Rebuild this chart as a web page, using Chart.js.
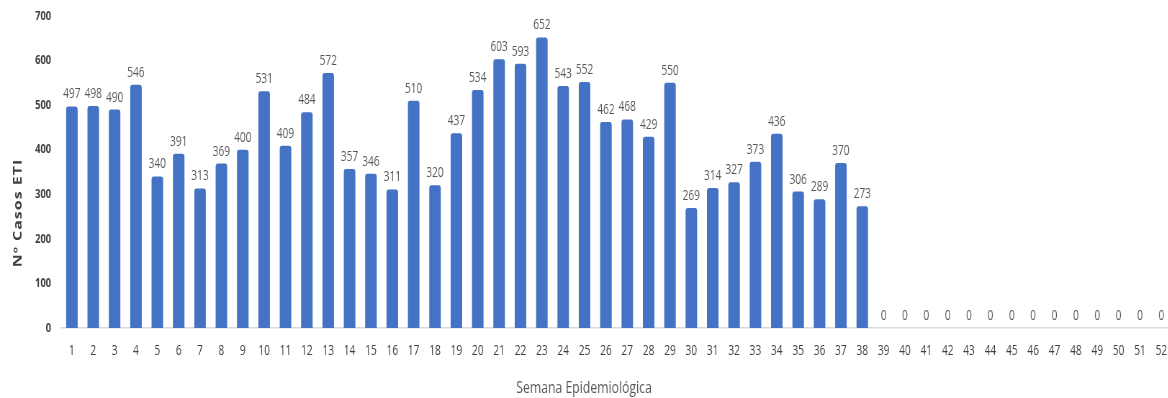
<!DOCTYPE html>
<html>
<head>
<meta charset="utf-8">
<script src="https://cdn.jsdelivr.net/npm/chart.js@4/dist/chart.umd.min.js"></script>
<style>
  html, body { margin: 0; padding: 0; background: #ffffff; overflow: hidden; }
  #wrap { width: 1168px; height: 398px; overflow: hidden; }
  /* the chart is laid out wide and shown horizontally compressed */
  #c { display: block; width: 1172px !important; height: 398px !important; }
</style>
</head>
<body>
<div id="wrap"><canvas id="c" width="1628" height="398"></canvas></div>
<script>
// Epidemiological weeks 1..52
const semanas = [];
for (let i = 1; i <= 52; i++) semanas.push(String(i));

// Weekly ETI case counts
const casosETI = [
  497, 498, 490, 546, 340, 391, 313, 369, 400, 531,
  409, 484, 572, 357, 346, 311, 510, 320, 437, 534,
  603, 593, 652, 543, 552, 462, 468, 429, 550, 269,
  314, 327, 373, 436, 306, 289, 370, 273, 0, 0,
  0, 0, 0, 0, 0, 0, 0, 0, 0, 0,
  0, 0
];

const yTicks = [0, 100, 200, 300, 400, 500, 600, 700];

const FONT = "'Open Sans', 'DejaVu Sans', sans-serif";

// Draws each bar's value just above its top
const valueLabels = {
  id: 'valueLabels',
  afterDatasetsDraw(chart) {
    const ctx = chart.ctx;
    const meta = chart.getDatasetMeta(0);
    const data = chart.data.datasets[0].data;
    ctx.save();
    ctx.font = '14px ' + FONT;
    ctx.fillStyle = '#595959';
    ctx.textAlign = 'center';
    ctx.textBaseline = 'alphabetic';
    meta.data.forEach((bar, i) => {
      ctx.fillText(String(data[i]), bar.x, bar.y - 8);
    });
    ctx.restore();
  }
};

// Axis captions: vertical one left of the ticks, horizontal one centred on the page
const axisCaptions = {
  id: 'axisCaptions',
  afterDraw(chart) {
    const ctx = chart.ctx;
    ctx.save();
    ctx.translate(25, 213);
    ctx.rotate(-Math.PI / 2);
    ctx.font = 'bold 16px ' + FONT;
    ctx.fillStyle = '#404040';
    ctx.textAlign = 'center';
    ctx.textBaseline = 'middle';
    if ('letterSpacing' in ctx) ctx.letterSpacing = '1px';
    ctx.fillText('Nº Casos ETI', 0, 0);
    ctx.restore();

    ctx.save();
    ctx.font = '17px ' + FONT;
    ctx.fillStyle = '#595959';
    ctx.textAlign = 'center';
    ctx.textBaseline = 'middle';
    ctx.fillText('Semana Epidemiológica', chart.width * 0.4983, chart.height - 10);
    ctx.restore();
  }
};

new Chart(document.getElementById('c'), {
  type: 'bar',
  data: {
    labels: semanas,
    datasets: [{
      data: casosETI,
      backgroundColor: '#4472C4',
      borderRadius: { topLeft: 3, topRight: 3 },
      borderSkipped: 'bottom',
      categoryPercentage: 1.0,
      barPercentage: 0.54
    }]
  },
  options: {
    responsive: false,
    animation: false,
    devicePixelRatio: 1,
    layout: { padding: { top: 16, right: 0, left: 0, bottom: 0 } },
    plugins: {
      legend: { display: false },
      tooltip: { enabled: false }
    },
    scales: {
      x: {
        grid: { display: false, drawTicks: false },
        border: { display: true, color: '#d9d9d9', width: 1.5 },
        ticks: {
          color: '#404040',
          font: { family: FONT, size: 14 },
          padding: 15,
          maxRotation: 0,
          autoSkip: false
        },
        afterFit(scale) {
          scale.height = 70;
          scale.paddingLeft = 0;
          scale.paddingRight = 0;
        }
      },
      y: {
        min: 0,
        max: 700,
        afterBuildTicks(scale) {
          scale.ticks = yTicks.map(v => ({ value: v }));
        },
        grid: { display: false, drawTicks: false },
        border: { display: false },
        ticks: {
          color: '#404040',
          font: { family: FONT, size: 13, weight: 'bold' },
          padding: 14
        },
        afterFit(scale) {
          scale.width = 85;
          scale.paddingTop = 0;
          scale.paddingBottom = 0;
        }
      }
    }
  },
  plugins: [valueLabels, axisCaptions]
});
</script>
</body>
</html>
